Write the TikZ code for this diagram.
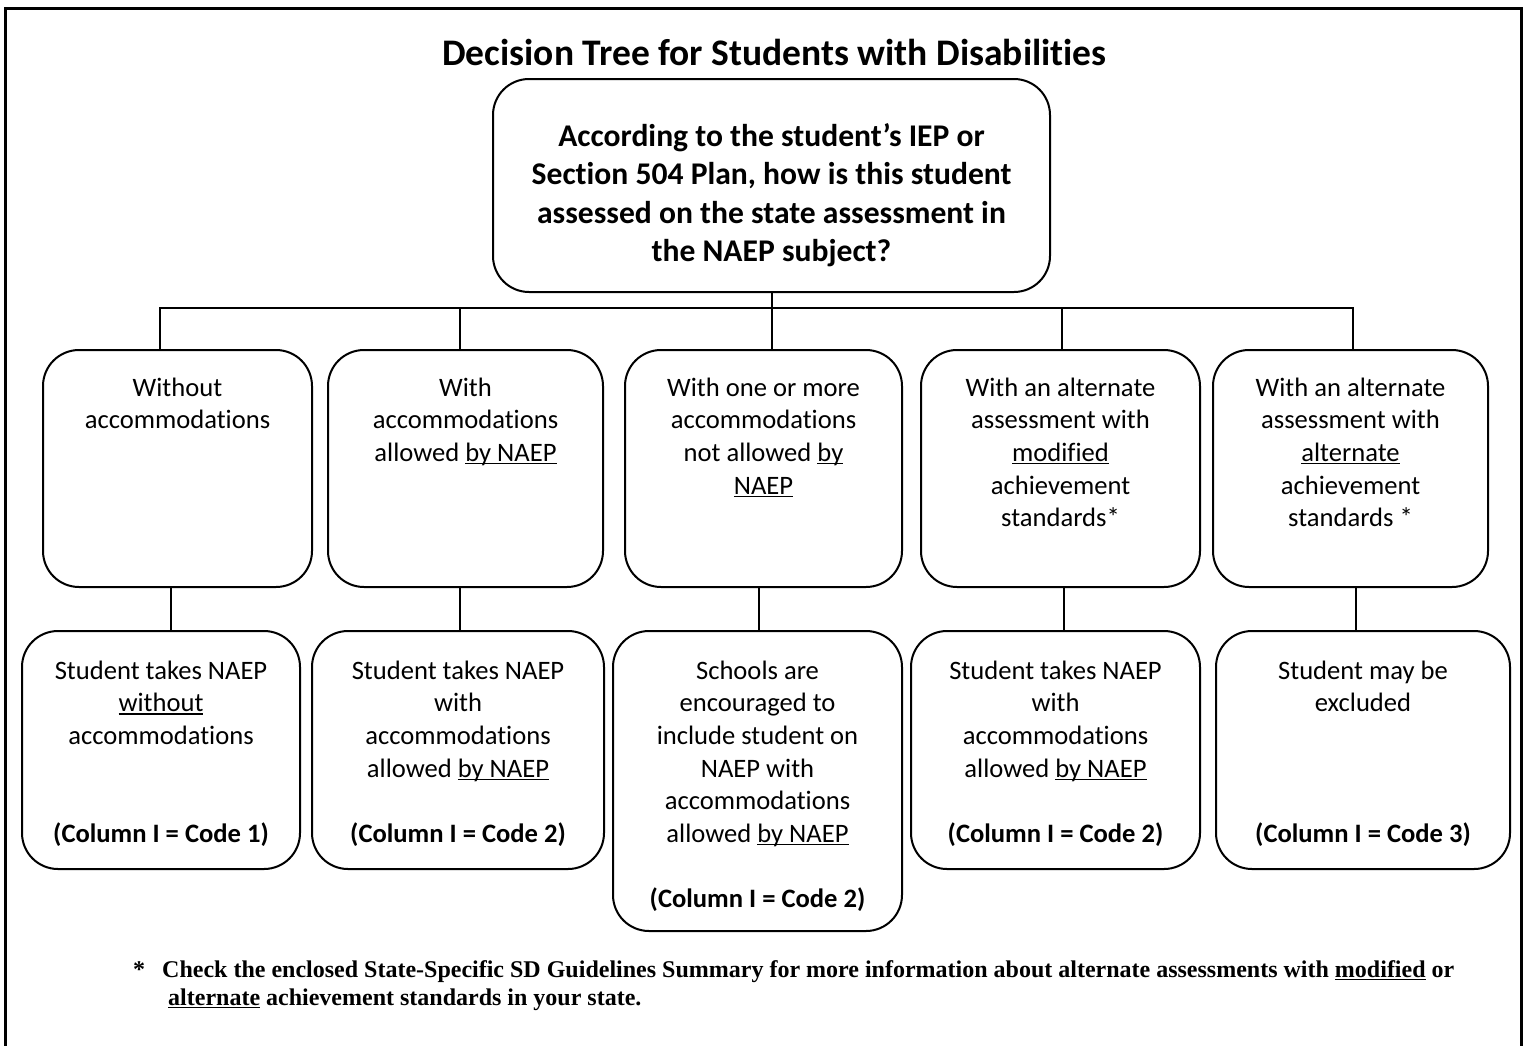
\documentclass[tikz,border=0pt]{standalone}
\usepackage{fontspec}
\setmainfont{Carlito}[Ligatures=CommonOff]
\newfontfamily\tnrfont{Liberation Serif}
\newcommand{\myul}[1]{\setbox0\hbox{#1}\rlap{\rule[-3pt]{\wd0}{1.4pt}}\box0\relax}
\begin{document}
\begin{tikzpicture}[x=1pt,y=-1pt,
  box/.style={draw, line width=2pt, rounded corners=36pt, inner sep=0pt},
  conn/.style={line width=2pt},
  txt/.style={anchor=north, align=center, inner sep=0pt, font=\fontsize{26.6}{32.6}\selectfont},
  toptxt/.style={anchor=north, align=center, inner sep=0pt, font=\bfseries\fontsize{31.6}{38.5}\selectfont}]
\useasboundingbox (0,0) rectangle (1527,1045);
\fill[white] (0,0) rectangle (1527,1045);
% frame
\draw[line width=3pt] (5,1046) -- (5,8) -- (1521,8) -- (1521,1046);
% title
\node[anchor=base, inner sep=0pt, font=\bfseries\fontsize{37.5}{45}\selectfont] (title) at (774.5,65) {Decision Tree for Students with Disabilities};
% top box
\node[box, minimum width=557pt, minimum height=213pt] (top) at (771.5,185.5) {};
\node[toptxt] (toptext) at (771.5,119.05) {\strut According to the student’s IEP or\\ Section 504 Plan, how is this student\\ assessed on the state assessment in\\ the NAEP subject?};
% middle boxes
\node[box, minimum width=269pt, minimum height=237pt] (m1) at (177.5,468.5) {};
\node[box, minimum width=275pt, minimum height=237pt] (m2) at (465.5,468.5) {};
\node[box, minimum width=277pt, minimum height=237pt] (m3) at (763.5,468.5) {};
\node[box, minimum width=279pt, minimum height=237pt] (m4) at (1060.5,468.5) {};
\node[box, minimum width=275pt, minimum height=237pt] (m5) at (1350.5,468.5) {};
\node[txt] (m1t) at (177.5,373.2) {\strut Without\\ accommodations};
\node[txt] (m2t) at (465.5,373.2) {\strut With\\ accommodations\\ allowed \myul{by NAEP}};
\node[txt] (m3t) at (763.5,373.2) {\strut With one or more\\ accommodations\\ not allowed \myul{by}\\ \myul{NAEP}};
\node[txt] (m4t) at (1060.5,373.2) {\strut With an alternate\\ assessment with\\ \myul{modified}\\ achievement\\ standards*};
\node[txt] (m5t) at (1350.5,373.2) {\strut With an alternate\\ assessment with\\ \myul{alternate}\\ achievement\\ standards *};
% bottom boxes
\node[box, minimum width=278pt, minimum height=238pt] (b1) at (161,750) {};
\node[box, minimum width=292pt, minimum height=238pt] (b2) at (458,750) {};
\node[box, minimum width=289pt, minimum height=300pt] (b3) at (757.5,781) {};
\node[box, minimum width=289pt, minimum height=238pt] (b4) at (1055.5,750) {};
\node[box, minimum width=294pt, minimum height=238pt] (b5) at (1363,750) {};
\node[txt] (b1t) at (161,656.2) {\strut Student takes NAEP\\ \myul{without}\\ accommodations\\ \mbox{}\\ \mbox{}\\ \textbf{(Column I = Code 1)}};
\node[txt] (b2t) at (458,656.2) {\strut Student takes NAEP\\ with\\ accommodations\\ allowed \myul{by NAEP}\\ \mbox{}\\ \textbf{(Column I = Code 2)}};
\node[txt] (b3t) at (757.5,656.2) {\strut Schools are\\ encouraged to\\ include student on\\ NAEP with\\ accommodations\\ allowed \myul{by NAEP}\\ \mbox{}\\ \textbf{(Column I = Code 2)}};
\node[txt] (b4t) at (1055.5,656.2) {\strut Student takes NAEP\\ with\\ accommodations\\ allowed \myul{by NAEP}\\ \mbox{}\\ \textbf{(Column I = Code 2)}};
\node[txt] (b5t) at (1363,656.2) {\strut Student may be\\ excluded\\ \mbox{}\\ \mbox{}\\ \mbox{}\\ \textbf{(Column I = Code 3)}};
% connectors
\coordinate (t1) at (160,308);
\coordinate (t2) at (460,308);
\coordinate (t4) at (1062,308);
\coordinate (t5) at (1353,308);
\coordinate (s1) at (171,600);
\coordinate (s2) at (460,600);
\coordinate (s3) at (759,600);
\coordinate (s4) at (1064,600);
\coordinate (s5) at (1356,600);
\draw[conn] (m1.north -| t1) -- (t1) -- (t5) -- (m5.north -| t5);
\draw[conn] (t2) -- (m2.north -| t2);
\draw[conn] (t4) -- (m4.north -| t4);
\draw[conn] (top.south) -- (top.south |- m3.north);
\foreach \i in {1,...,5} \draw[conn] (m\i.south -| s\i) -- (b\i.north -| s\i);
% footnote
\node[anchor=base west, inner sep=0pt, font=\tnrfont\bfseries\fontsize{24}{28}\selectfont] (star) at (133,977) {*};
\node[anchor=north west, align=left, inner sep=0pt, font=\tnrfont\bfseries\fontsize{24}{28}\selectfont] (note) at (162,957.4) {\strut Check the enclosed State-Specific SD Guidelines Summary for more information about alternate assessments with \myul{modified} or\\ \hspace*{6pt}\myul{alternate} achievement standards in your state.};
\end{tikzpicture}
\end{document}
